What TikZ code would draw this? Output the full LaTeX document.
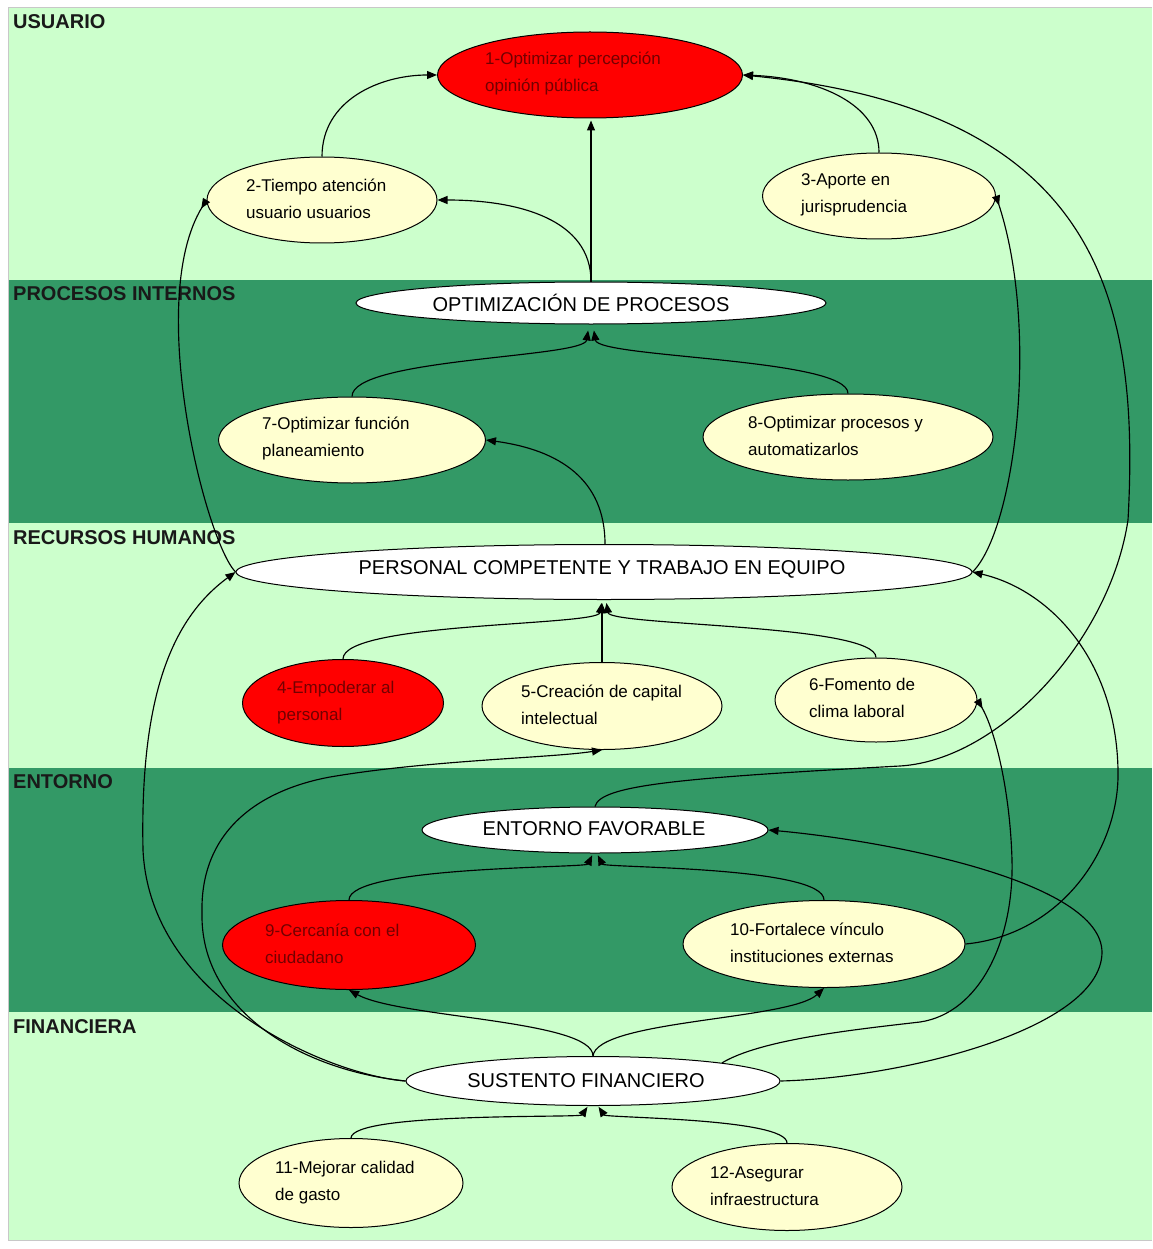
\documentclass[tikz,border=0pt]{standalone}
\usepackage{fontspec}
\setmainfont{Liberation Sans}
\usetikzlibrary{arrows.meta,shapes.geometric}

\definecolor{bandlight}{RGB}{204,255,204}
\definecolor{banddark}{RGB}{51,153,102}
\definecolor{cream}{RGB}{255,255,208}
\definecolor{alert}{RGB}{255,0,0}
\definecolor{alerttext}{RGB}{115,0,0}
\definecolor{frame}{RGB}{200,200,200}

\begin{document}
\begin{tikzpicture}[x=1pt,y=-1pt,
  oval/.style 2 args={ellipse, draw=black, line width=1pt, inner sep=0pt,
    minimum width=#1, minimum height=#2},
  objective/.style={fill=cream},
  critical/.style={fill=alert},
  theme/.style={fill=white},
  txt/.style={anchor=west, align=left, inner sep=0pt,
    font=\fontsize{17}{27}\selectfont},
  crittxt/.style={txt, text=alerttext},
  themetxt/.style={inner sep=0pt, font=\fontsize{20}{24}\selectfont},
  bandlabel/.style={anchor=west, inner sep=0pt, text=black!90,
    font=\fontsize{20}{24}\selectfont\bfseries},
  link/.style={draw=black, line width=1.15pt,
    -{Triangle[length=10pt,width=8pt]}},
  backlink/.style={draw=black, line width=1.15pt,
    -{Triangle[length=10pt,width=8pt,reversed]}}]

\useasboundingbox (0,0) rectangle (1152,1249);
\fill[white] (0,0) rectangle (1152,1249);

% perspective bands
\fill[bandlight] (8,8)    rectangle (1152,280);
\fill[banddark]  (8,280)  rectangle (1152,523);
\fill[bandlight] (8,523)  rectangle (1152,768);
\fill[banddark]  (8,768)  rectangle (1152,1012);
\fill[bandlight] (8,1012) rectangle (1152,1240);
\draw[frame, line width=1pt] (8,8) -- (1152,8);
\draw[frame, line width=1pt] (8,8) -- (8,1240) -- (1152,1240);

\node[bandlabel] (lbUsu) at (13,22)   {USUARIO};
\node[bandlabel] (lbPro) at (13,294)  {PROCESOS INTERNOS};
\node[bandlabel] (lbRRHH) at (13,538) {RECURSOS HUMANOS};
\node[bandlabel] (lbEnt) at (13,782)  {ENTORNO};
\node[bandlabel] (lbFin) at (13,1027) {FINANCIERA};

% objectives
\node[oval={305pt}{86pt}, critical]  (n1) at (590,75) {};
\node[crittxt] (t1) at (485,74) {1-Optimizar percepción\\opinión pública};
\node[oval={230pt}{86pt}, objective] (n2) at (322,200) {};
\node[txt] (t2) at (246,198.5) {2-Tiempo atención\\usuario usuarios};
\node[oval={233pt}{86pt}, objective] (n3) at (879,196) {};
\node[txt] (t3) at (801,195) {3-Aporte en\\jurisprudencia};

\node[oval={470pt}{42pt}, theme] (opt) at (591,303) {};
\node[themetxt] (topt) at (581,303) {OPTIMIZACIÓN DE PROCESOS};
\node[oval={267pt}{86pt}, objective] (n7) at (352,440) {};
\node[txt] (t7) at (262,439) {7-Optimizar función\\planeamiento};
\node[oval={290pt}{86pt}, objective] (n8) at (848,437) {};
\node[txt] (t8) at (748,436) {8-Optimizar procesos y\\automatizarlos};

\node[oval={736pt}{55pt}, theme] (per) at (604,572) {};
\node[themetxt] (tper) at (602,569) {PERSONAL COMPETENTE Y TRABAJO EN EQUIPO};
\node[oval={201pt}{87pt}, critical] (n4) at (343,703) {};
\node[crittxt] (t4) at (277,703) {4-Empoderar al\\personal};
\node[oval={240pt}{87pt}, objective] (n5) at (602,706) {};
\node[txt] (t5) at (521,705) {5-Creación de capital\\intelectual};
\node[oval={202pt}{84pt}, objective] (n6) at (876,700) {};
\node[txt] (t6) at (809,698) {6-Fomento de\\clima laboral};

\node[oval={346pt}{46pt}, theme] (ent) at (595,830) {};
\node[themetxt] (tent) at (594,829) {ENTORNO FAVORABLE};
\node[oval={253pt}{89pt}, critical] (n9) at (349,945) {};
\node[crittxt] (t9) at (265,944) {9-Cercanía con el\\ciudadano};
\node[oval={282pt}{87pt}, objective] (n10) at (824,944) {};
\node[txt] (t10) at (730,943) {10-Fortalece vínculo\\instituciones externas};

\node[oval={374pt}{49pt}, theme] (sus) at (593,1081) {};
\node[themetxt] (tsus) at (586,1081) {SUSTENTO FINANCIERO};
\node[oval={224pt}{89pt}, objective] (n11) at (351,1183) {};
\node[txt] (t11) at (275,1183) {11-Mejorar calidad\\de gasto};
\node[oval={230pt}{87pt}, objective] (n12) at (787,1187) {};
\node[txt] (t12) at (710,1186) {12-Asegurar\\infraestructura};

% cause-effect links: usuario
\draw[link] (n2.north) .. controls (322,100) and (380,75) .. (n1.west);
\draw[link, shorten >=2pt] (opt.north) -- (opt.north |- n1.south);
\draw[link] (opt.north) .. controls (591,220) and (520,200) .. (n2.east);
\draw[link] (n3.north) .. controls (879,105) and (820,78) .. (n1.east);
\draw[link] (ent.north) .. controls (600,785) and (680,778) .. (900,766)
  .. controls (1000,760) and (1110,640) .. (1128,520)
  .. controls (1140,300) and (1100,110) .. (n1.east);
\draw[backlink] (per.west) .. controls (205,540) and (145,300) .. (n2.west);
\draw[backlink] (per.east) .. controls (1015,530) and (1040,330) .. (n3.east);

% procesos internos
\draw[link, shorten >=6pt] (n7.north) .. controls (352,358) and (584,358) .. ([xshift=-2pt]opt.south);
\draw[link, shorten >=6pt] (n8.north) .. controls (848,358) and (598,358) .. ([xshift=2pt]opt.south);
\draw[link] ([xshift=1pt]per.north) .. controls (605,480) and (560,450) .. (n7.east);

% recursos humanos
\draw[link, shorten >=3pt] (n4.north) .. controls (343,622) and (598,626) .. ([xshift=-2pt]per.south);
\draw[link, shorten >=3pt] (n5.north) -- (n5.north |- per.south);
\draw[link, shorten >=3pt] (n6.north) .. controls (876,624) and (610,626) .. ([xshift=2pt]per.south);
\draw[link] (sus.west) .. controls (330,1075) and (150,1000) .. (143,850)
  .. controls (140,700) and (170,620) .. (per.west);
\draw[link] (sus.west) .. controls (300,1070) and (200,1010) .. (202,913)
  .. controls (200,830) and (260,790) .. (330,777)
  .. controls (430,760) and (550,758) .. (n5.south);
\draw[backlink] (sus.8) .. controls (760,1040) and (850,1030) .. (920,1022)
  .. controls (980,1013) and (1014,940) .. (1012,860)
  .. controls (1010,790) and (995,730) .. (n6.east);
\draw[link] (n10.east) .. controls (1060,935) and (1120,850) .. (1118,770)
  .. controls (1116,660) and (1050,590) .. (per.east);

% entorno
\draw[link, shorten >=2pt] (n9.north) .. controls (349,866) and (586,868) .. ([xshift=-2pt]ent.south);
\draw[link, shorten >=2pt] (n10.north) .. controls (824,866) and (604,868) .. ([xshift=2pt]ent.south);
\draw[link] (sus.east) .. controls (900,1078) and (1100,1030) .. (1102,953)
  .. controls (1103,880) and (880,840) .. (ent.east);
\draw[link] (sus.north) .. controls (593,1020) and (400,1018) .. (n9.south);
\draw[link] (sus.north) .. controls (597,1020) and (790,1020) .. (n10.south);

% financiera
\draw[link, shorten >=1pt] (n11.north) .. controls (352,1112) and (580,1118) .. ([xshift=-5pt]sus.south);
\draw[link, shorten >=1pt] (n12.north) .. controls (787,1118) and (606,1118) .. ([xshift=5pt]sus.south);
\end{tikzpicture}
\end{document}
